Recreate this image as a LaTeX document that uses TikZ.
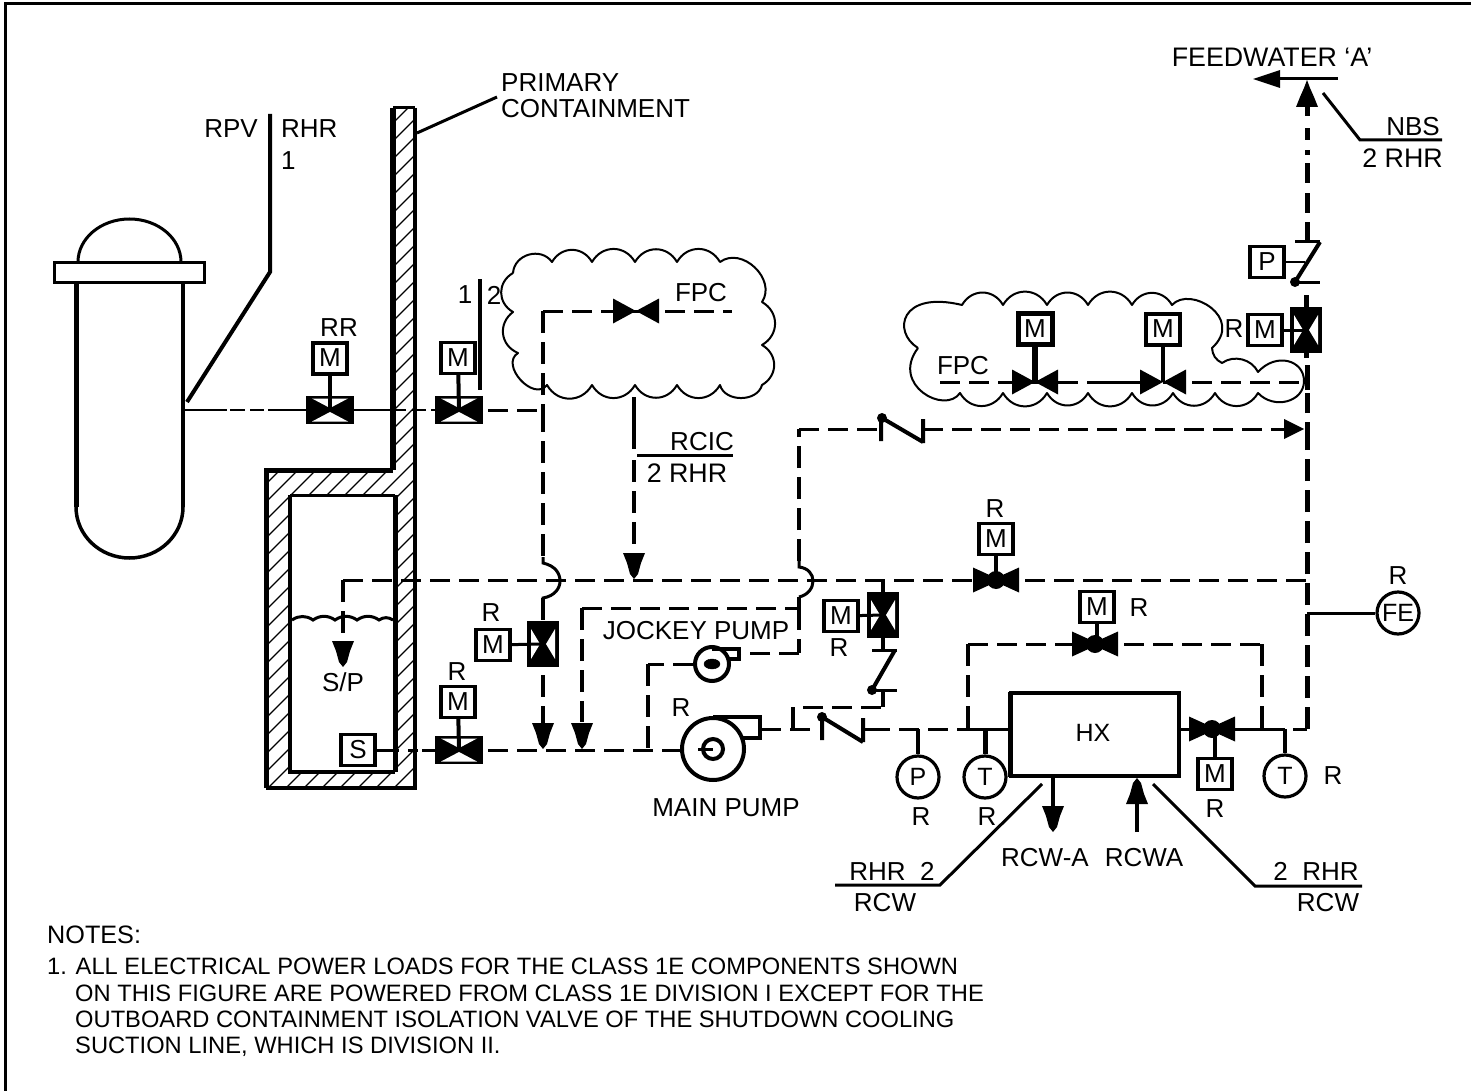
\documentclass[tikz,border=0pt]{standalone}
\usepackage{fontspec}
\setmainfont{Liberation Sans}
\usetikzlibrary{calc,shapes.geometric}
\tikzset{
  lbl/.style={inner sep=0pt,font=\fontsize{26}{30}\selectfont},
  lblw/.style={inner sep=0pt,font=\fontsize{26.8}{30}\selectfont},
  notetxt/.style={inner sep=0pt,anchor=base west,font=\fontsize{23.7}{26}\selectfont},
  mbox/.style={draw,line width=3.2pt,fill=white,inner sep=0pt,minimum width=34pt,minimum height=31pt,font=\fontsize{26}{30}\selectfont},
  gauge/.style={draw,circle,line width=3.2pt,fill=white,inner sep=0pt,minimum size=42pt,font=\fontsize{25}{30}\selectfont},
  pipe/.style={line width=3pt,dash pattern=on 20pt off 9pt},
  pipev/.style={line width=4pt,dash pattern=on 22pt off 9pt},
  pipeh/.style={line width=5pt,dash pattern=on 22pt off 9pt},
  solid3/.style={line width=3pt},
  solid4/.style={line width=4pt},
  cloudl/.style={line width=2pt,line join=round},
  bl/.style={bend left=60,looseness=1.2}
}
% framed horizontal valve
\newcommand\VF[3]{\coordinate (#1) at (#2,#3);
  \fill[shift={(#1)}] (-24,-14) rectangle (24,14);
  \fill[white,shift={(#1)}] (-18,-11.5)--(18,-11.5)--(0,-2)--cycle (-18,11.5)--(18,11.5)--(0,2)--cycle;}
% framed vertical valve
\newcommand\VV[3]{\coordinate (#1) at (#2,#3);
  \fill[shift={(#1)}] (-16,-23) rectangle (16,23);
  \fill[white,shift={(#1)}] (-12,-15)--(-12,15)--(-3,0)--cycle (12,-15)--(12,15)--(3,0)--cycle;}
% bowtie valve
\newcommand\VB[3]{\coordinate (#1) at (#2,#3);
  \fill[shift={(#1)}] (-23,-12.5)--(0,0)--(23,-12.5)--(23,12.5)--(0,0)--(-23,12.5)--cycle;}
% bowtie valve with ball
\newcommand\VBB[3]{\coordinate (#1) at (#2,#3);
  \fill[shift={(#1)}] (-23,-12.5)--(0,-2)--(23,-12.5)--(23,12.5)--(0,2)--(-23,12.5)--cycle (0,0) circle (9);}
% arrow head, tip at the point
\newcommand\HD[3]{\fill[shift={(#1,#2)},rotate=#3] (-11,-26)--(11,-26)--(7,-16)--(4,-5)--(0,0)--(-4,-5)--(-7,-16)--cycle;}
\begin{document}
\begin{tikzpicture}[x=1pt,y=-1pt]
\useasboundingbox (0,0) rectangle (1471,1091);
\draw[line width=3pt] (5.5,1091)--(5.5,4)--(1471,4);

% ---- containment
\begin{scope}
\clip (393,108)--(415,108)--(415,788)--(266,788)--(266,470)--(393,470)--cycle;
\foreach \c in {480,498,...,1220} \draw[line width=1.2pt] (\c,0) -- (\c-1000,1000);
\fill[white] (290,495) rectangle (395,772);
\end{scope}
\draw[line width=4pt] (415,108)--(415,788)--(266,788);
\draw[line width=5pt] (266,788)--(266,470)--(393,470);
\draw[line width=6pt] (393,470)--(393,108);
\draw[line width=3pt] (393,108)--(415,108);
\draw[line width=4pt] (290,495)--(290,772)--(395,772);
\draw[line width=3pt] (290,495)--(395,495);
\draw[line width=5pt] (395,495)--(395,772);
\coordinate (pcw) at (417,133);
\coordinate (pct) at (497,97);
\draw[solid3] (pcw)--(pct);
\node[lbl,anchor=base west] (pc1) at (501,92) {PRIMARY};
\node[lbl,anchor=base west] (pc2) at (501,118) {CONTAINMENT};

% ---- vessel
\draw[line width=5pt] (76,283)--(76,507);
\draw[line width=4pt] (183,283)--(183,507);
\draw[line width=3.5pt] (76,507) arc[start angle=180,end angle=0,x radius=53.5,y radius=51];
\draw[line width=3pt] (78,262) arc[start angle=180,end angle=0,x radius=51.5,y radius=-43];
\node[draw,line width=3pt,fill=white,inner sep=0pt,minimum width=150pt,minimum height=20pt] (flange) at (129,272.5) {};

\coordinate (rpvtop) at (270,114);
\coordinate (rpvb) at (270,272);
\coordinate (rpvn) at (187,402);
\draw[solid4] (rpvtop)--(rpvb)--(rpvn);
\node[lbl,anchor=base east] (rpv) at (258,138) {RPV};
\node[lbl,anchor=base west] (rhr) at (281,138) {RHR};
\node[lbl,anchor=base west] (one) at (281,170) {1};

% ---- valves with motors, shutdown suction
\VF{vrr}{330}{410}
\VF{vsd}{459}{410}
\node[mbox,line width=4pt] (mrr) at (330,358) {M};
\node[mbox] (msd) at (458,358) {M};
\draw[solid4] (mrr)--(vrr);
\draw[solid4] (msd)--(vsd);
\node[lbl] (rrlbl) at (339,328) {RR};
\coordinate (vesn) at (184,410);
\draw[line width=2.6pt,dash pattern=on 43pt off 3pt on 15pt off 5pt on 14pt off 4pt on 60pt] (vesn)--(vrr);
\coordinate (wallin) at (398,410);
\coordinate (wallout) at (435,410);
\draw[line width=2.6pt] (vrr)--(wallin);
\draw[line width=2.6pt,dash pattern=on 8pt off 6pt on 14pt off 5pt on 20pt] (wallin)--(wallout);
\coordinate (j12t) at (480,279);
\coordinate (j12b) at (480,390);
\draw[solid4] (j12t)--(j12b);
\node[lbl] (l1) at (465,295) {1};
\node[lbl] (l2) at (494,295) {2};

\coordinate (jsd) at (543,410);
\coordinate (fpccorner) at (543,311);
\coordinate (jmp1a) at (543,563);
\coordinate (jmp1b) at (543,598);
\draw[pipe] (vsd)--(jsd);
\draw[pipev] (fpccorner)--(jsd);
\draw[pipev] (jsd)--(jmp1a);
\draw[solid3] (jmp1a)++(0,-6)--(jmp1a) .. controls (556,566) and (560,574) .. (560,581) .. controls (560,588) and (555,596) .. (jmp1b)--++(0,8);

% ---- cloud 1
\draw[cloudl] (513,273) to[bend left=70,looseness=1.2] (552,262)
  to[bl] (592,262) to[bl] (635,262) to[bl] (677,262) to[bl] (720,262)
  to[bend left=80,looseness=1.2] (762,302) to[bl] (762,345) to[bl] (762,385)
  to[bend left=75,looseness=1.1] (720,385) to[bl] (677,385) to[bl] (635,385) to[bl] (592,385) to[bl] (547,385)
  to[bend left=100,looseness=1.3] (518,353) to[bl] (513,312) to[bl] (513,273);

\VB{vfpc}{636}{311}
\coordinate (fpcend) at (732,311);
\draw[pipe] (fpccorner)--(vfpc);
\draw[pipe] (vfpc)--(fpcend);
\node[lbl] (fpc1) at (701,293) {FPC};

% ---- RCIC
\coordinate (rc1) at (634,397);
\coordinate (rc2) at (634,449);
\coordinate (rc3) at (634,460);
\coordinate (rc4) at (634,560);
\draw[solid4] (rc1)--(rc2);
\draw[pipev] (rc3)--(rc4);
\HD{634}{579}{0}
\coordinate (rcr1) at (637,455);
\coordinate (rcr2) at (733,455);
\draw[solid3] (rcr1)--(rcr2);
\node[lbl] (rcic) at (702,442) {RCIC};
\node[lblw] (r2rhr1) at (687,473) {2 RHR};

% ---- main test line
\coordinate (mlL) at (343,580);
\coordinate (spd) at (343,640);
\VBB{vmain}{996}{580}
\node[mbox] (mmain) at (996,539) {M};
\draw[solid4] (mmain)--(vmain);
\node[lbl] (rmain) at (995,509) {R};
\coordinate (mlR) at (1307,580);
\draw[pipe] (mlL)--(vmain);
\draw[pipe] (vmain)--(mlR);
\draw[pipev] (mlL)--(spd);
\HD{343}{667}{0}
\node[lbl] (sp) at (343,682) {S/P};
% water level
\draw[line width=3pt] (292,620) to[bend left=35] (313,620) to[bend left=35] (335,620) to[bend left=35] (357,620) to[bend left=35] (379,620) to[bend left=35] (393,620);

% ---- suction
\node[mbox] (sbox) at (358,750) {S};
\VF{vsuc}{459}{750}
\node[mbox] (msuc) at (458,702) {M};
\draw[solid4] (msuc)--(vsuc);
\node[lbl] (rsuc) at (457,672) {R};
\coordinate (suw) at (393,750);
\draw[solid3] (sbox)--(suw);
\draw[pipe,dash pattern=on 6pt off 9pt on 10pt off 4pt on 20pt off 4pt] (suw)--(vsuc);

\VV{vsd2}{543}{644}
\node[mbox] (msd2) at (493,645) {M};
\draw[solid3] (msd2)--(vsd2);
\node[lbl] (rsd2) at (491,613) {R};
\coordinate (j543) at (543,750);
\coordinate (j582) at (582,750);
\coordinate (j648) at (648,750);
\draw[pipev] (jmp1b)--(vsd2);
\draw[pipev] (vsd2)--(543,725);
\HD{543}{749}{0}
\HD{582}{749}{0}
\node[lbl,anchor=center] (jp) at (696,631) {JOCKEY PUMP};

% pumps
\draw[pipe] (vsuc)--(713,750);
\node[draw,circle,line width=4pt,fill=white,inner sep=0pt,minimum size=62pt] (mp) at (713,749) {};
\node[draw,circle,line width=4pt,inner sep=0pt,minimum size=20pt] (mpi) at (713,749) {};
\draw[line width=3.5pt] (713,717)--(760,717)--(760,738)--(742,738);
\node[lbl] (mpl) at (726,808) {MAIN PUMP};
\node[lbl] (rmp) at (681,708) {R};
\node[draw,circle,line width=4pt,fill=white,inner sep=0pt,minimum size=34pt] (jpc) at (712,664) {};
\node[draw,ellipse,fill=black,inner sep=0pt,minimum width=16pt,minimum height=10pt] (jpi) at (712,664) {};
\draw[line width=3.5pt] (712,649)--(739,649)--(739,659)--(727,659);

\coordinate (pumpin) at (698,749);
\draw[solid3] (pumpin)--(mpi.center);

\coordinate (c580t) at (582,608);
\coordinate (c798t) at (799,608);
\coordinate (jmp2a) at (799,567);
\coordinate (jmp2b) at (799,597);
\coordinate (c798b) at (799,653);
\coordinate (joutl) at (740,653);
\draw[pipe] (c580t)--(c798t);
\draw[pipev] (c580t)--(582,722);
\draw[solid4] (jmp2b)--(c798t);
\draw[pipev] (c798t)--(c798b);
\draw[pipe] (c798b)--(joutl);
\coordinate (c648t) at (648,664);
\draw[pipe] (jpc.west)--(c648t);
\draw[pipev] (c648t)--(j648);

% ---- line to check valve 430
\coordinate (c800t) at (799,429);
\draw[solid3] (jmp2a)++(0,-6)--(jmp2a) .. controls (808,568) and (813,574) .. (813,581) .. controls (813,588) and (808,595) .. (jmp2b);
\draw[pipev] (jmp2a)++(0,-6)--(c800t);
\coordinate (cv1l) at (881,429);
\coordinate (cv1r) at (923,429);
\coordinate (cvin) at (1284,429);
\draw[pipe] (c800t)--(cv1l);
\draw[pipe] (cv1r)--(cvin);
\draw[line width=4pt] (881,418)--(881,441) (923,419)--(923,443) (882,418)--(923,442);
\fill (882,418) circle (5);
\fill (1284,419)--(1304,429)--(1284,439)--cycle;

% ---- main pump out
\coordinate (po) at (760,729);
\coordinate (po2) at (781,729);
\coordinate (pl1) at (793,707);
\coordinate (pl2) at (793,729);
\coordinate (pl3) at (810,729);
\coordinate (pl4) at (883,707);
\coordinate (pl5) at (883,690);
\draw[solid3] (po)--(po2);
\draw[line width=3.5pt] (pl1)--(pl2);
\draw[solid3] (790,729)--(pl3);
\draw[line width=4pt] (822,717)--(822,740) (863,718)--(863,742) (822,717)--(863,742);
\fill (822,717) circle (5);
\draw[solid3] (863,729)--(870,729);
\draw[pipe] (803,707)--(pl4);
\draw[solid4] (pl4)--(pl5);
\draw[solid3] (872,690)--(897,690) (872,650)--(897,650);
\draw[line width=4pt] (872,690)--(895,650);
\fill (872,690) circle (5);
\VV{vup}{883}{615}
\node[mbox] (mup) at (841,616) {M};
\draw[solid3] (mup)--(vup);
\node[lbl] (rup) at (839,648) {R};
\coordinate (cv3t) at (883,650);
\coordinate (mltop) at (883,581);
\draw[solid4] (cv3t)--(vup);
\draw[solid4] (vup)--(mltop);

% ---- HX
\node[draw,line width=3.5pt,fill=white,inner sep=0pt,minimum width=168pt,minimum height=83pt] (hx) at (1095,734.5) {};
\draw[line width=5pt] (1010,692)--(1010,777);
\node[lbl,font=\fontsize{25}{30}\selectfont] (hxl) at (1093,733) {HX};
\coordinate (j918) at (918,729);
\coordinate (j968) at (968,729);
\coordinate (j985) at (985,729);
\coordinate (hxin) at (1010,729);
\coordinate (hxout) at (1180,729);
\coordinate (j1262) at (1262,729);
\coordinate (j1285) at (1285,729);
\coordinate (cnr) at (1307,729);
\draw[pipe] (870,729)--(j968);
\draw[solid3] (j968)--(hxin);
\node[gauge] (gp) at (918,777) {P};
\node[gauge] (gt1) at (985,777) {T};
\node[gauge] (gt2) at (1285,776) {T};
\draw[solid4] (j918)--(gp);
\draw[line width=5pt] (j985)--(gt1);
\draw[solid4] (j1285)--(gt2);
\node[lbl] (rgp) at (921,817) {R};
\node[lbl] (rgt1) at (987,817) {R};
\node[lbl] (rgt2) at (1333,776) {R};

\coordinate (byl) at (968,644);
\coordinate (byr) at (1262,644);
\VBB{vby}{1095}{644}
\node[mbox] (mby) at (1097,607) {M};
\draw[solid4] (mby)--(1097,640);
\node[lbl] (rby) at (1139,608) {R};
\draw[pipev] (byl)--(j968);
\draw[pipev] (byr)--(j1262);
\draw[pipe] (byl)--(vby);
\draw[pipe] (vby)--(byr);

\VBB{vhx}{1212}{729}
\node[mbox] (mhx) at (1215,774) {M};
\draw[solid4] (mhx)--(1215,735);
\node[lbl] (rhx) at (1215,809) {R};
\draw[solid3] (hxout)--(vhx);
\draw[solid3] (vhx)--(j1285);
\coordinate (j1293) at (1293,729);
\draw[solid3] (j1293)--(cnr);

% ---- big vertical
\coordinate (t443) at (1307,443);
\draw[pipeh] (cnr)--(t443);
\coordinate (bar1) at (1307,422);
\draw[line width=5pt] (t443)--(bar1);
\draw[line width=5pt] (1307,413)--(1307,393);
\draw[line width=5pt] (1307,390)--(1307,365);
\node[gauge] (fe) at (1398,613) {FE};
\coordinate (jfe) at (1307,613);
\draw[solid3] (jfe)--(fe);
\node[lbl] (rfe) at (1398,576) {R};

% ---- cloud 2
\draw[cloudl] (918,348) .. controls (892,332) and (900,290) .. (962,305)
 to[bl] (1003,305) to[bl] (1047,305) to[bl] (1088,305) to[bl] (1132,305) to[bl] (1172,305)
 .. controls (1190,285) and (1245,318) .. (1212,348) to[bend right=30] (1222,363)
 to[bend left=50] (1258,372)
 .. controls (1276,352) and (1304,360) .. (1304,381) .. controls (1304,402) and (1274,410) .. (1258,393)
 to[bl] (1215,393) to[bl] (1173,393) to[bl] (1132,393) to[bl] (1088,393) to[bl] (1047,393) to[bl] (1003,393) to[bl] (960,393)
 .. controls (945,415) and (890,385) .. (918,348);

\VB{vc1}{1035}{382}
\VB{vc2}{1163}{382}
\node[mbox,line width=5pt] (mc1) at (1035,329) {M};
\node[mbox,line width=4pt] (mc2) at (1163,329) {M};
\draw[line width=6pt] (mc1)--(vc1);
\draw[line width=4pt] (mc2)--(vc2);
\coordinate (fpcs) at (940,382);
\coordinate (fpcj) at (1307,382);
\draw[pipe] (fpcs)--(vc1);
\draw[line width=3pt,dash pattern=on 43pt off 9pt on 60pt] (vc1)--(vc2);
\draw[pipe] (vc2)--(fpcj);
\node[lbl] (fpc2) at (963,366) {FPC};

% ---- upper valve
\VV{vfw}{1306}{330}
\node[mbox] (mfw) at (1265,330) {M};
\draw[solid3] (mfw)--(vfw);
\node[lbl] (rfw) at (1234,329) {R};
\draw[line width=5pt] (1306,358)--(vfw);
\draw[line width=5pt] (vfw)--(1306,295);
\draw[solid3] (1295,282)--(1320,282) (1295,242)--(1320,242);
\draw[line width=4pt] (1295,282)--(1320,242);
\fill (1295,282) circle (5);
\node[mbox] (pbox) at (1267,262) {P};
\coordinate (psl) at (1305,262);
\draw[line width=2.5pt] (pbox)--(psl);
\coordinate (u1) at (1307,242);
\coordinate (u2) at (1307,222);
\draw[line width=5pt] (u1)--(u2);
\draw[line width=5pt] (1307,213)--(1307,193) (1307,183)--(1307,163) (1307,155)--(1307,150) (1307,140)--(1307,128) (1307,116)--(1307,100);
\fill (1296,107)--(1318,107)--(1314,97)--(1310,88)--(1307,80)--(1304,88)--(1300,97)--cycle;

\coordinate (fwr) at (1338,79);
\coordinate (fwl) at (1275,79);
\draw[solid3] (fwr)--(fwl);
\fill (1253,79)--(1280,70)--(1280,88)--cycle;
\node[lblw] (fw) at (1272,57) {FEEDWATER ‘A’};

\coordinate (nb1) at (1323,93);
\coordinate (nb2) at (1360,140);
\coordinate (nb3) at (1442,140);
\draw[solid3] (nb1)--(nb2)--(nb3);
\node[lbl,anchor=base east] (nbs) at (1440,136) {NBS};
\node[lblw,anchor=base east] (rh2) at (1443,168) {2 RHR};

% ---- RCW
\coordinate (ro) at (1053,807);
\coordinate (ri) at (1137,832);
\coordinate (hxb1) at (1053,777);
\coordinate (hxb2) at (1137,800);
\draw[solid4] (hxb1)--(ro);
\HD{1053}{832}{0}
\draw[solid4] (ri)--(hxb2);
\HD{1137}{778}{180}
\node[lbl] (rcwa1) at (1045,858) {RCW-A};
\node[lbl] (rcwa2) at (1144,858) {RCWA};
\coordinate (la1) at (1042,784);
\coordinate (la2) at (940,885);
\coordinate (la3) at (835,885);
\draw[solid3] (la1)--(la2)--(la3);
\coordinate (lb1) at (1153,784);
\coordinate (lb2) at (1255,886);
\coordinate (lb3) at (1362,886);
\draw[solid3] (lb1)--(lb2)--(lb3);
\node[lbl] (t1) at (892,871) {RHR\ \ 2};
\node[lbl] (t2) at (885,903) {RCW};
\node[lbl] (t3) at (1316,871) {2\ \ RHR};
\node[lbl] (t4) at (1328,903) {RCW};

% ---- notes
\node[notetxt,font=\fontsize{25.2}{28}\selectfont] (nh) at (47,943) {NOTES:};
\node[notetxt] (n1) at (47,974) {1. ALL ELECTRICAL POWER LOADS FOR THE CLASS 1E COMPONENTS SHOWN};
\node[notetxt] (n2) at (75,1001) {ON THIS FIGURE ARE POWERED FROM CLASS 1E DIVISION I EXCEPT FOR THE};
\node[notetxt] (n3) at (75,1027) {OUTBOARD CONTAINMENT ISOLATION VALVE OF THE SHUTDOWN COOLING};
\node[notetxt] (n4) at (75,1053) {SUCTION LINE, WHICH IS DIVISION II.};
\end{tikzpicture}
\end{document}
